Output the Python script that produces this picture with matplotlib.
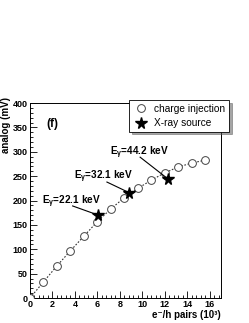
import matplotlib
matplotlib.use('Agg')
import matplotlib.pyplot as plt
from matplotlib.ticker import MultipleLocator
import numpy as np

# charge injection points (x in 10^3 e-/h pairs, y in mV)
inj_x = [0.0, 1.2, 2.4, 3.6, 4.8, 6.0, 7.2, 8.4, 9.6, 10.8, 12.0, 13.2, 14.4, 15.6]
inj_y = [0, 33, 66, 97, 127, 157, 183, 206, 225, 242, 257, 269, 277, 283]

# x-ray source points
xray_x = [6.1, 8.85, 12.3]
xray_y = [170, 216, 244]
xray_labels = [r'E$_\gamma$=22.1 keV', r'E$_\gamma$=32.1 keV', r'E$_\gamma$=44.2 keV']
label_pos = [(3.65, 198), (6.5, 248), (9.7, 297)]
line_from = [(3.8, 189), (6.85, 238), (9.8, 289)]


def main():
    plt.rcParams['font.family'] = ['Liberation Sans', 'DejaVu Sans']
    plt.rcParams['mathtext.fontset'] = 'custom'
    plt.rcParams['mathtext.rm'] = 'Liberation Sans:bold'
    plt.rcParams['mathtext.it'] = 'Liberation Sans:bold'
    plt.rcParams['mathtext.bf'] = 'Liberation Sans:bold'

    fig = plt.figure(figsize=(2.49, 3.23), dpi=100)
    ax = fig.add_axes([0.12, 0.077, 0.768, 0.604])

    ax.plot(inj_x, inj_y, color='#333333', lw=0.8, ls=(0, (1.5, 1.5)), zorder=2)
    ax.plot(inj_x, inj_y, ls='none', marker='o', ms=5.6, mfc='white',
            mec='#444444', mew=0.7, zorder=3, label='charge injection')
    ax.plot(xray_x, xray_y, ls='none', marker='*', ms=8.5, color='black',
            zorder=4, label='X-ray source')

    for lab, (tx, ty), (lx, ly), sx, sy in zip(xray_labels, label_pos, line_from,
                                                xray_x, xray_y):
        ax.text(tx, ty, lab, fontsize=7.2, fontweight='bold', ha='center', va='center')
        ax.plot([lx, sx], [ly, sy], color='black', lw=0.8, zorder=3)

    ax.text(1.5, 358, '(f)', fontsize=8.5, fontweight='bold', ha='left', va='center')

    ax.set_xlim(0, 17)
    ax.set_ylim(0, 400)
    ax.xaxis.set_major_locator(MultipleLocator(2))
    ax.xaxis.set_minor_locator(MultipleLocator(0.4))
    ax.yaxis.set_major_locator(MultipleLocator(50))
    ax.yaxis.set_minor_locator(MultipleLocator(10))
    ax.tick_params(which='both', direction='in', top=False, right=False,
                   labelsize=6.5, width=0.6, pad=1.5)
    ax.tick_params(which='major', length=5)
    ax.tick_params(which='minor', length=2.5)
    for t in ax.get_xticklabels() + ax.get_yticklabels():
        t.set_fontweight('bold')
    for s in ax.spines.values():
        s.set_linewidth(0.7)

    ax.set_ylabel('analog (mV)', fontsize=7, fontweight='bold', loc='top', labelpad=1)
    ax.yaxis.set_label_coords(-0.1, 1.03)
    ax.set_xlabel('e\u207b/h pairs (10\u00b3)', fontsize=7, fontweight='bold',
                  loc='right', labelpad=0)
    ax.xaxis.set_label_coords(1.0, -0.06)

    leg = ax.legend(loc='upper right', bbox_to_anchor=(229 / 249, 1 - 100 / 323),
                    bbox_transform=fig.transFigure, fontsize=7.3,
                    frameon=True, fancybox=False, shadow=True, borderpad=0.35,
                    handletextpad=0.5, handlelength=1.6, labelspacing=0.45,
                    borderaxespad=0)
    leg.get_frame().set_edgecolor('black')
    leg.get_frame().set_linewidth(0.6)

    fig.savefig('out.png', dpi=100)


if __name__ == '__main__':
    main()
